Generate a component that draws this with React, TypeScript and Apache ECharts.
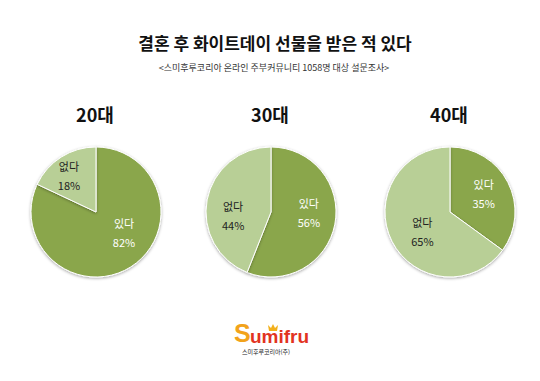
import React, { useEffect, useRef } from "react";
import * as echarts from "echarts";

const mainTitle = "결혼 후 화이트데이 선물을 받은 적 있다";
const subTitle = "<스미후루코리아 온라인 주부커뮤니티 1058명 대상 설문조사>";
const groups = ["20대", "30대", "40대"];
const answerNames = ["있다", "없다"];
const yesValues = [82, 56, 35];
const noValues = [18, 44, 65];
const brand = "Sumifru";
const brandSub = "스미후루코리아(주)";

const FONT = "'Noto Sans CJK KR', 'Noto Sans', sans-serif";
const DARK = "#8aa64c";
const LIGHT = "#b8cf96";
const centersX = [96, 271, 450];
const centerY = 212;
// label nudges [series][dataIndex] = [dx, dy]
const labelNudge = [
  [[9, -9], [-8, -7]],
  [[3, -6], [-3, 10]],
  [[2, -2], [4, 3]],
];

export default function App() {
  const ref = useRef<HTMLDivElement>(null);
  useEffect(() => {
    document.body.style.margin = "0";
    const chart = echarts.init(ref.current!, null, { renderer: "svg" });
    const series = groups.map((g, i) => ({
      type: "pie",
      name: g,
      center: [centersX[i], centerY],
      radius: 65,
      startAngle: 90,
      clockwise: true,
      silent: true,
      itemStyle: {
        borderColor: "#ffffff",
        borderWidth: 1,
        shadowBlur: 3,
        shadowOffsetY: 1,
        shadowColor: "rgba(0,0,0,0.35)",
      },
      label: {
        show: true,
        position: "inside",
        formatter: "{b}\n{c}%",
        fontSize: 11,
        lineHeight: 19,
        fontFamily: FONT,
      },
      labelLine: { show: false },
      labelLayout: (p: any) => {
        const n = labelNudge[i][p.dataIndex];
        return { dx: n[0], dy: n[1] };
      },
      data: [
        {
          name: answerNames[0],
          value: yesValues[i],
          itemStyle: { color: DARK },
          label: { color: "#ffffff" },
        },
        {
          name: answerNames[1],
          value: noValues[i],
          itemStyle: { color: LIGHT },
          label: { color: "#222222" },
        },
      ],
    }));
    const txt = (
      text: string,
      x: number,
      y: number,
      fontSize: number,
      fontWeight: any,
      fill: string,
      family = FONT
    ) => ({
      type: "text",
      x,
      y,
      silent: true,
      style: {
        text,
        fontSize,
        fontWeight,
        fill,
        fontFamily: family,
        align: "center",
        verticalAlign: "middle",
      },
    });
    const graphic: any[] = [
      txt(mainTitle, 275, 42, 17, "bold", "#111111"),
      txt(subTitle, 274, 67, 9, "normal", "#333333"),
      ...groups.map((g, i) => txt(g, centersX[i] - 1, 114, 18, "bold", "#111111")),
      {
        type: "text",
        x: 234,
        y: 333,
        silent: true,
        style: {
          text: brand[0],
          fontSize: 25,
          fontWeight: "bold",
          fill: "#f2a31b",
          fontFamily: "'Liberation Sans', Arial, sans-serif",
          align: "left",
          verticalAlign: "middle",
        },
      },
      {
        type: "text",
        x: 250,
        y: 336,
        silent: true,
        style: {
          text: brand.slice(1),
          fontSize: 19,
          fontWeight: "bold",
          fill: "#e2331f",
          fontFamily: "'Liberation Sans', Arial, sans-serif",
          align: "left",
          verticalAlign: "middle",
        },
      },
      {
        type: "polygon",
        silent: true,
        shape: {
          points: [
            [269, 331],
            [268, 325],
            [271, 328],
            [273, 324],
            [275, 328],
            [278, 325],
            [277, 331],
          ],
        },
        style: { fill: "#f2b01b" },
      },
      txt(brandSub, 266, 351, 6, "normal", "#222222"),
    ];
    chart.setOption({
      animation: false,
      backgroundColor: "#ffffff",
      series,
      graphic,
    } as any);
    return () => chart.dispose();
  }, []);
  return <div ref={ref} style={{ width: 540, height: 381 }} />;
}
